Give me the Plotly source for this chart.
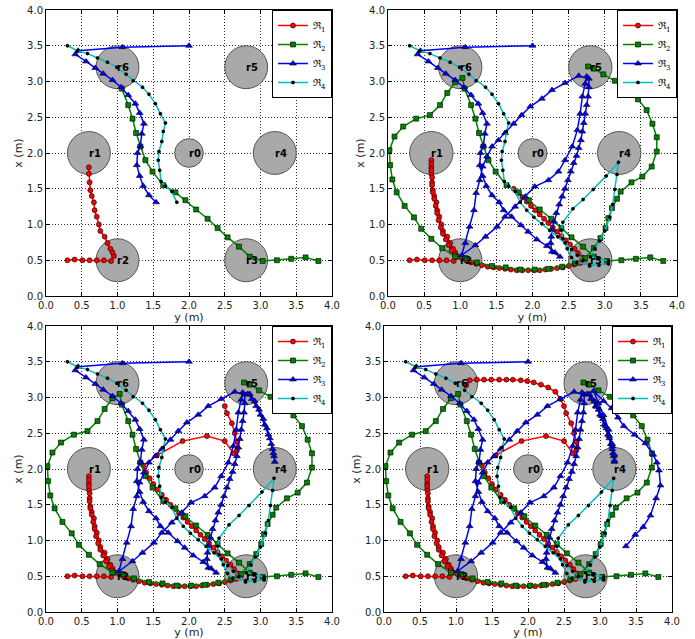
import plotly.graph_objects as go

# ---------------- obstacles (horizontal axis = y (m), vertical axis = x (m)) ----------------
OBST_NAMES = ["r0", "r1", "r2", "r3", "r4", "r5", "r6"]
OBST_Y = [2.0, 0.6, 1.0, 2.8, 3.2, 2.8, 1.0]
OBST_X = [2.0, 2.0, 0.5, 0.5, 2.0, 3.2, 3.2]
OBST_R = [0.2, 0.3, 0.3, 0.3, 0.3, 0.3, 0.3]

TICKS = [0.0, 0.5, 1.0, 1.5, 2.0, 2.5, 3.0, 3.5, 4.0]
TICK_LABELS = ["0.0", "0.5", "1.0", "1.5", "2.0", "2.5", "3.0", "3.5", "4.0"]

# ---------------- robot R1 ----------------
R1_Y_S1 = [0.30, 0.40, 0.51, 0.61, 0.71, 0.81, 0.91, 0.95, 0.93, 0.90, 0.86, 0.82, 0.76, 0.74, 0.71, 0.68, 0.67, 0.64, 0.62, 0.61, 0.60, 0.60]
R1_X_S1 = [0.50, 0.51, 0.50, 0.50, 0.50, 0.50, 0.49, 0.56, 0.61, 0.66, 0.74, 0.83, 0.91, 1.00, 1.11, 1.20, 1.31, 1.40, 1.48, 1.59, 1.71, 1.80]
R1_Y_S2 = [0.60, 0.60, 0.60, 0.61, 0.61, 0.62, 0.64, 0.66, 0.68, 0.70, 0.73, 0.76, 0.80, 0.84, 0.88, 0.92, 0.96, 1.02, 1.08, 1.15,
           1.22, 1.30, 1.38, 1.46, 1.54, 1.62, 1.70, 1.78, 1.86, 1.94, 2.02, 2.10, 2.18, 2.26, 2.34, 2.42, 2.50, 2.58, 2.66, 2.72,
           2.68, 2.63, 2.58, 2.52, 2.46, 2.40, 2.34, 2.28, 2.22, 2.16, 2.10, 2.04, 1.98, 1.92, 1.86, 1.80, 1.74]
R1_X_S2 = [1.90, 1.85, 1.76, 1.66, 1.55, 1.45, 1.36, 1.26, 1.16, 1.06, 0.96, 0.87, 0.79, 0.71, 0.64, 0.58, 0.55, 0.53, 0.50, 0.47,
           0.45, 0.43, 0.41, 0.40, 0.39, 0.38, 0.37, 0.36, 0.36, 0.36, 0.36, 0.36, 0.37, 0.38, 0.39, 0.40, 0.42, 0.44, 0.46, 0.48,
           0.54, 0.60, 0.66, 0.72, 0.78, 0.84, 0.90, 0.96, 1.02, 1.08, 1.14, 1.20, 1.26, 1.32, 1.38, 1.44, 1.50]
R1_Y_S3 = [1.68, 1.62, 1.56, 1.50, 1.45, 1.40, 1.36, 1.55, 1.91, 2.25, 2.50, 2.62, 2.67, 2.67, 2.64, 2.60, 2.53, 2.50]
R1_X_S3 = [1.57, 1.64, 1.71, 1.79, 1.87, 1.95, 2.05, 2.19, 2.39, 2.46, 2.39, 2.22, 2.26, 2.38, 2.50, 2.64, 2.78, 2.88]
R1_Y_S4 = [2.45, 2.38, 2.28, 2.18, 2.08, 1.99, 1.90, 1.79, 1.70, 1.60, 1.49, 1.39, 1.29, 1.19, 1.14]
R1_X_S4 = [2.98, 3.08, 3.14, 3.18, 3.21, 3.23, 3.24, 3.25, 3.25, 3.25, 3.25, 3.25, 3.25, 3.24, 3.17]

# ---------------- robot R2 ----------------
R2_Y_S1 = [3.81, 3.63, 3.43, 3.23, 3.03, 2.85, 2.70, 2.54, 2.40, 2.26, 2.10, 1.95, 1.81, 1.64, 1.49, 1.39, 1.32, 1.26, 1.21, 1.15, 1.06]
R2_X_S1 = [0.49, 0.54, 0.52, 0.50, 0.49, 0.55, 0.69, 0.82, 0.95, 1.08, 1.21, 1.34, 1.45, 1.55, 1.74, 1.90, 2.09, 2.28, 2.48, 2.67, 2.90]
R2_Y_S2 = [1.03, 0.93, 0.82, 0.72, 0.58, 0.39, 0.21, 0.09, 0.02, 0.03, 0.06, 0.12, 0.23, 0.36, 0.46, 0.60, 0.75, 0.93, 1.07, 1.23,
           1.44, 1.63, 1.83, 2.03, 2.22, 2.41, 2.59, 2.73, 2.85, 2.94, 3.01, 3.05, 3.10, 3.17, 3.22, 3.37, 3.52, 3.65, 3.72, 3.72,
           3.66, 3.58, 3.46, 3.31, 3.14, 2.98, 2.85, 2.77]
R2_X_S2 = [3.05, 2.99, 2.84, 2.67, 2.53, 2.48, 2.37, 2.23, 2.04, 1.83, 1.63, 1.45, 1.26, 1.10, 0.94, 0.80, 0.67, 0.55, 0.53, 0.47,
           0.42, 0.40, 0.37, 0.37, 0.38, 0.41, 0.46, 0.53, 0.67, 0.81, 0.95, 1.09, 1.23, 1.36, 1.46, 1.59, 1.67, 1.81, 2.02, 2.22,
           2.41, 2.60, 2.75, 2.89, 3.01, 3.10, 3.18, 3.21]
R2_Y_S3, R2_X_S3 = [], []
R2_Y_S4, R2_X_S4 = [], []

# ---------------- robot R3 ----------------
R3_Y_S1 = [2.00, 1.07, 0.45, 0.41, 0.56, 0.69, 0.80, 0.93, 1.05, 1.15, 1.25, 1.31, 1.37, 1.34, 1.32, 1.28, 1.27, 1.31, 1.36, 1.44, 1.54]
R3_X_S1 = [3.50, 3.48, 3.43, 3.38, 3.28, 3.19, 3.11, 3.02, 2.92, 2.81, 2.69, 2.56, 2.41, 2.27, 2.10, 2.00, 1.83, 1.68, 1.54, 1.41, 1.31]
R3_Y_S2 = [1.60, 1.71, 1.84, 1.94, 2.06, 2.20, 2.31, 2.38, 2.27, 2.25, 2.26, 2.27, 2.30, 2.33, 2.37, 2.41, 2.45, 2.49, 2.53, 2.57,
           2.61, 2.64, 2.67, 2.69, 2.71, 2.73, 2.75, 2.77, 2.78, 2.78, 2.64, 2.45, 2.27, 2.13, 1.97, 1.85, 1.74, 1.62, 1.53, 1.44,
           1.37, 1.31, 1.27, 1.22, 1.19, 1.13, 1.07, 1.02, 1.21, 1.35, 1.51, 1.62, 1.76, 1.90, 2.03, 2.22, 2.36, 2.45, 2.55, 2.62,
           2.66, 2.69, 2.73, 2.75]
R3_X_S2 = [1.20, 1.11, 0.99, 0.90, 0.79, 0.70, 0.61, 0.55, 0.62, 0.74, 0.83, 0.92, 1.04, 1.16, 1.28, 1.39, 1.50, 1.62, 1.74, 1.86,
           1.96, 2.07, 2.18, 2.30, 2.42, 2.55, 2.67, 2.79, 2.92, 3.04, 3.08, 2.98, 2.88, 2.76, 2.65, 2.53, 2.41, 2.28, 2.18, 2.09,
           1.95, 1.81, 1.62, 1.44, 1.20, 0.97, 0.74, 0.57, 0.71, 0.83, 0.97, 1.11, 1.25, 1.39, 1.53, 1.62, 1.74, 1.90, 2.09, 2.32,
           2.55, 2.79, 2.97, 3.07]
R3_Y_S3 = [2.85, 2.92, 2.98, 3.04, 3.09, 3.13, 3.17, 3.19, 3.20, 3.18, 3.15, 3.11, 3.06, 3.00, 2.94, 2.88, 2.82]
R3_X_S3 = [3.05, 2.95, 2.83, 2.70, 2.57, 2.43, 2.28, 2.18, 2.10, 2.22, 2.35, 2.48, 2.62, 2.76, 2.88, 2.98, 3.05]
R3_Y_S4 = [2.88, 2.95, 3.02, 3.08, 3.13, 3.17, 3.20, 3.20, 3.17, 3.12, 3.05, 2.98, 2.91, 3.05, 3.16, 3.25, 3.33, 3.48, 3.63, 3.74,
           3.79, 3.82, 3.84, 3.78, 3.70, 3.60, 3.49, 3.36]
R3_X_S4 = [2.99, 2.87, 2.74, 2.60, 2.46, 2.32, 2.20, 2.12, 2.35, 2.55, 2.75, 2.92, 3.09, 2.95, 2.85, 2.72, 2.60, 2.48, 2.36, 2.20,
           2.09, 1.98, 1.77, 1.59, 1.35, 1.19, 1.08, 0.92]

# ---------------- robot R4 ----------------
R4_Y_S1 = [0.30, 0.44, 0.58, 0.72, 0.86, 0.99, 1.12, 1.22, 1.35, 1.44, 1.53, 1.60, 1.67, 1.64, 1.62, 1.58, 1.57, 1.59, 1.61, 1.67, 1.76, 1.83]
R4_X_S1 = [3.50, 3.43, 3.39, 3.33, 3.27, 3.20, 3.10, 3.01, 2.92, 2.82, 2.69, 2.55, 2.42, 2.30, 2.16, 2.02, 1.90, 1.76, 1.60, 1.54, 1.46, 1.31]
R4_Y_S2 = [1.92, 2.02, 2.13, 2.24, 2.35, 2.45, 2.54, 2.62, 2.70, 2.79, 2.92, 3.05, 3.05, 2.90, 2.80, 2.86, 2.93, 3.00, 3.07, 3.11,
           3.14, 3.17, 3.19, 3.02, 2.84, 2.70, 2.56, 2.42, 2.40, 2.42, 2.48, 2.54, 2.61, 2.79, 3.05]
R4_X_S2 = [1.20, 1.10, 1.01, 0.92, 0.83, 0.74, 0.65, 0.57, 0.50, 0.42, 0.43, 0.45, 0.49, 0.52, 0.55, 0.66, 0.77, 0.91, 1.10, 1.28,
           1.49, 1.70, 1.87, 1.68, 1.49, 1.35, 1.22, 1.03, 0.92, 0.80, 0.66, 0.54, 0.47, 0.44, 0.45]
R4_Y_S3, R4_X_S3 = [], []
R4_Y_S4, R4_X_S4 = [], []

ROBOTS = [
    dict(name="ℜ<sub>1</sub>", ys=[R1_Y_S1, R1_Y_S2, R1_Y_S3, R1_Y_S4], xs=[R1_X_S1, R1_X_S2, R1_X_S3, R1_X_S4],
         color="#ff0000", symbol="circle", msize=5, mcolor="#ff0000", mline=0.6),
    dict(name="ℜ<sub>2</sub>", ys=[R2_Y_S1, R2_Y_S2, R2_Y_S3, R2_Y_S4], xs=[R2_X_S1, R2_X_S2, R2_X_S3, R2_X_S4],
         color="#008000", symbol="square", msize=5, mcolor="#008000", mline=0.6),
    dict(name="ℜ<sub>3</sub>", ys=[R3_Y_S1, R3_Y_S2, R3_Y_S3, R3_Y_S4], xs=[R3_X_S1, R3_X_S2, R3_X_S3, R3_X_S4],
         color="#0000ff", symbol="triangle-up", msize=6, mcolor="#0000ff", mline=0.6),
    dict(name="ℜ<sub>4</sub>", ys=[R4_Y_S1, R4_Y_S2, R4_Y_S3, R4_Y_S4], xs=[R4_X_S1, R4_X_S2, R4_X_S3, R4_X_S4],
         color="#00bfbf", symbol="hexagon", msize=4, mcolor="#000000", mline=0),
]

W, H = 695, 639
PANELS = [
    dict(xd=[46 / W, 332 / W], yd=[1 - 296 / H, 1 - 10 / H]),
    dict(xd=[388 / W, 677 / W], yd=[1 - 296 / H, 1 - 10 / H]),
    dict(xd=[46 / W, 332 / W], yd=[1 - 612 / H, 1 - 326 / H]),
    dict(xd=[384 / W, 672 / W], yd=[1 - 612 / H, 1 - 326 / H]),
]

fig = go.Figure()
layout = dict(template="none", width=W, height=H, margin=dict(l=0, r=0, t=0, b=0, autoexpand=False),
              paper_bgcolor="white", plot_bgcolor="white", showlegend=True, shapes=[], annotations=[])

for p, panel in enumerate(PANELS):
    k = p + 1
    sfx = "" if k == 1 else str(k)
    xa, ya = "x" + sfx, "y" + sfx
    leg = "legend" + sfx
    common = dict(range=[0, 4], tickmode="array", tickvals=TICKS, ticktext=TICK_LABELS, automargin=False,
                  showgrid=True, gridcolor="#333333", griddash="1px,2px", gridwidth=0.8,
                  showline=True, linecolor="black", linewidth=1, mirror="ticks",
                  ticks="inside", ticklen=4, tickcolor="black", zeroline=False,
                  tickfont=dict(family="DejaVu Sans", size=10, color="#222222"))
    layout["xaxis" + sfx] = dict(common, domain=panel["xd"], anchor=ya,
                                 title=dict(text="y (m)", font=dict(family="DejaVu Sans", size=11, color="#222222"), standoff=0))
    layout["yaxis" + sfx] = dict(common, domain=panel["yd"], anchor=xa,
                                 title=dict(text="x (m)", font=dict(family="DejaVu Sans", size=11, color="#222222"), standoff=2))
    layout[leg] = dict(x=panel["xd"][1], y=panel["yd"][1], xanchor="right", yanchor="top",
                       bgcolor="white", bordercolor="black", borderwidth=1,
                       font=dict(family="DejaVu Serif", size=10, color="black"),
                       tracegroupgap=0, itemwidth=30)
    for name, cy, cx, r in zip(OBST_NAMES, OBST_Y, OBST_X, OBST_R):
        layout["shapes"].append(dict(type="circle", xref=xa, yref=ya, x0=cy - r, x1=cy + r, y0=cx - r, y1=cx + r,
                                     fillcolor="#a9a9a9", line=dict(color="#555555", width=1), layer="between"))
        layout["annotations"].append(dict(x=cy - 0.03, y=cx, xref=xa, yref=ya, text="<b>" + name + "</b>",
                                          showarrow=False, xanchor="left", yanchor="middle",
                                          font=dict(family="DejaVu Sans", size=10, color="black")))
    for rob in ROBOTS:
        ys, xs = [], []
        for s in range(k):
            ys += rob["ys"][s]
            xs += rob["xs"][s]
        fig.add_trace(go.Scatter(
            x=ys, y=xs, xaxis=xa, yaxis=ya, mode="lines+markers", name=rob["name"], legend=leg,
            line=dict(color=rob["color"], width=1.5),
            marker=dict(symbol=rob["symbol"], size=rob["msize"], color=rob["mcolor"],
                        line=dict(color="black", width=rob["mline"])),
        ))

fig.update_layout(**layout)
fig.write_html("out.html", config={"displayModeBar": False},
               post_script="document.body.style.margin='0';document.body.style.padding='0';")
